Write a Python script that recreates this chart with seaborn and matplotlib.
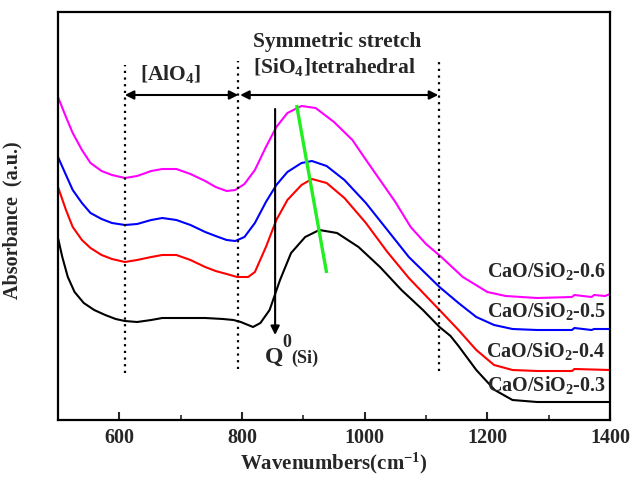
import matplotlib
matplotlib.use("Agg")
import matplotlib.pyplot as plt
import seaborn as sns
import pandas as pd

# ---- data (arbitrary absorbance units) ----
x_06 = [500, 513, 524, 539, 553, 571, 588, 609, 629, 652, 670, 693, 716, 740, 757, 775,
        789, 804, 821, 839, 856, 874, 897, 920, 950, 980, 1000, 1025, 1050, 1075, 1100,
        1125, 1160, 1200, 1230, 1281, 1338, 1342, 1370, 1374, 1392, 1400]
y_06 = [323, 303, 287, 270, 257, 249, 245, 242, 244, 249, 251, 251, 246, 239, 233, 229,
        230, 236, 250, 273, 293, 307, 314, 312, 298, 280, 262, 240, 218, 193, 176,
        163, 143, 128, 124, 122, 123, 125, 123, 125, 124, 126]

x_05 = [500, 513, 524, 539, 553, 571, 588, 609, 629, 652, 670, 693, 716, 740, 757, 775,
        789, 804, 821, 839, 856, 874, 897, 914, 938, 967, 1002, 1037, 1072, 1122, 1153,
        1182, 1211, 1241, 1281, 1338, 1342, 1370, 1374, 1400]
y_05 = [263, 245, 230, 217, 207, 201, 197, 195, 196, 200, 202, 200, 195, 188, 184, 180,
        179, 183, 197, 218, 235, 248, 257, 259, 254, 240, 217, 190, 163, 133, 117,
        103, 95, 91, 90, 90, 92, 90, 91, 91]

x_04 = [500, 513, 524, 539, 553, 571, 588, 609, 629, 652, 670, 693, 716, 740, 757, 775,
        792, 810, 821, 839, 856, 874, 897, 914, 938, 967, 1002, 1037, 1072, 1122, 1153,
        1182, 1211, 1241, 1281, 1338, 1342, 1400]
y_04 = [233, 210, 193, 180, 172, 165, 161, 158, 160, 163, 165, 165, 160, 153, 149, 146,
        143, 143, 148, 173, 200, 220, 235, 241, 237, 222, 197, 168, 142, 110, 90,
        70, 55, 50, 49, 49, 51, 50]

x_03 = [500, 507, 516, 527, 542, 559, 577, 594, 609, 629, 652, 670, 693, 716, 740, 769,
        786, 798, 810, 818, 830, 845, 862, 880, 903, 926, 955, 990, 1025, 1060, 1095,
        1122, 1140, 1153, 1182, 1212, 1241, 1281, 1400]
y_03 = [182, 163, 143, 128, 117, 110, 105, 101, 99, 98, 100, 102, 102, 102, 102, 101,
        100, 98, 95, 93, 97, 110, 140, 167, 183, 190, 187, 173, 153, 130, 110,
        93, 84, 74, 50, 30, 20, 18, 18]

series_names = ["CaO/SiO$_2$-0.6", "CaO/SiO$_2$-0.5", "CaO/SiO$_2$-0.4", "CaO/SiO$_2$-0.3"]
series_colors = ["#ff00ff", "#0000ff", "#ff0000", "#000000"]
label_y = [143, 103, 63, 29]
x_ticks = [600, 800, 1000, 1200, 1400]

# ---- style ----
sns.set_theme(style="ticks")
plt.rcParams["font.family"] = ["Liberation Serif", "DejaVu Serif"]
plt.rcParams["font.weight"] = "bold"
plt.rcParams["mathtext.fontset"] = "custom"
plt.rcParams["mathtext.rm"] = "Liberation Serif:bold"
plt.rcParams["mathtext.bf"] = "Liberation Serif:bold"
plt.rcParams["mathtext.it"] = "Liberation Serif:bold:italic"

frames = []
for name, xs, ys in zip(series_names, [x_06, x_05, x_04, x_03], [y_06, y_05, y_04, y_03]):
    frames.append(pd.DataFrame({"Wavenumber": xs, "Absorbance": ys, "sample": name}))
df = pd.concat(frames, ignore_index=True)

fig = plt.figure(figsize=(6.41, 4.88), dpi=100)
ax = fig.add_axes([58 / 641, 68 / 488, 552 / 641, 408 / 488])

sns.lineplot(data=df, x="Wavenumber", y="Absorbance", hue="sample",
             palette=dict(zip(series_names, series_colors)), sort=False,
             estimator=None, linewidth=1.5, legend=False, ax=ax)

ax.set_xlim(500, 1400)
ax.set_ylim(0, 408)
ax.set_xticks(x_ticks)
ax.set_xticks([700, 900, 1100, 1300], minor=True)
ax.set_yticks([])
ax.tick_params(axis="x", which="major", direction="in", length=6, width=1.5,
               labelsize=14.5, pad=6, top=False)
ax.tick_params(axis="x", which="minor", direction="in", length=3.5, width=1.2, top=False)
for lab in ax.get_xticklabels():
    lab.set_fontweight("bold")
for sp in ax.spines.values():
    sp.set_visible(True)
    sp.set_linewidth(1.6)
    sp.set_color("black")

ax.set_xlabel("Wavenumbers(cm$^{-1}$)", fontsize=15, fontweight="bold")
ax.xaxis.set_label_coords(0.5, -0.075)
ax.set_ylabel("Absorbance  (a.u.)", fontsize=14.5, fontweight="bold")
ax.yaxis.set_label_coords(-0.065, 0.49)

# series labels
for name, yl in zip(series_names, label_y):
    ax.text(1393, yl, name, ha="right", va="baseline", fontsize=14.5, fontweight="bold")

# dotted boundaries
for xv, y0, y1 in [(609, 47, 355), (794, 51, 359), (1122, 49, 358)]:
    ax.plot([xv, xv], [y0, y1], color="black", lw=1.6, linestyle=(0, (1, 2)))

# double arrows
arrow_kw = dict(arrowstyle="<|-|>", color="black", lw=1.5, mutation_scale=13,
                shrinkA=0, shrinkB=0)
ax.annotate("", xy=(609, 325), xytext=(794, 325), arrowprops=arrow_kw)
ax.annotate("", xy=(797, 325), xytext=(1120, 325), arrowprops=arrow_kw)

ax.text(683, 340, "[AlO$_4$]", ha="center", va="baseline", fontsize=15.5, fontweight="bold")
ax.text(818, 373, "Symmetric stretch", ha="left", va="baseline", fontsize=15.5, fontweight="bold")
ax.text(818, 347, "[SiO$_4$]tetrahedral", ha="left", va="baseline", fontsize=15.5, fontweight="bold")

# Q0 arrow
ax.annotate("", xy=(854, 85), xytext=(854, 311),
            arrowprops=dict(arrowstyle="-|>", color="black", lw=1.5, mutation_scale=13,
                            shrinkA=0, shrinkB=0))
ax.text(837, 57, "Q", ha="left", va="baseline", fontsize=17, fontweight="bold")
ax.text(866, 73, "0", ha="left", va="baseline", fontsize=13, fontweight="bold")
ax.text(880, 57, "(Si)", ha="left", va="baseline", fontsize=13, fontweight="bold")

# green peak-shift line
ax.plot([889, 938], [315, 147], color="#22ee22", lw=2.4, solid_capstyle="butt")

fig.savefig("out.png", dpi=100)
